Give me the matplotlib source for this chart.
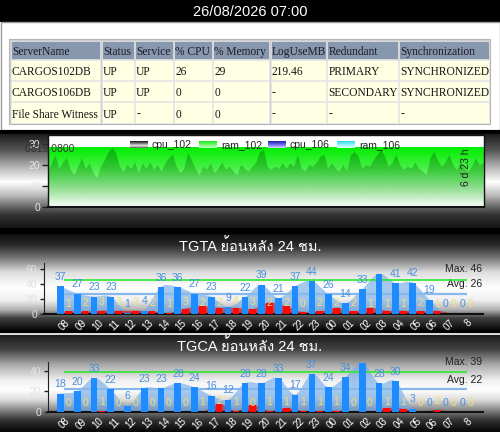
import numpy as np
import matplotlib
matplotlib.use("Agg")
import matplotlib.pyplot as plt
from matplotlib.path import Path
from matplotlib.patches import PathPatch, Rectangle
from matplotlib.colors import LinearSegmentedColormap, to_rgba
from matplotlib import font_manager
from matplotlib.ft2font import FT2Font

# ------------------------------------------------------------------ data
report_time = "26/08/2026 07:00"
table_columns = ["ServerName", "Status", "Service", "% CPU", "% Memory",
                 "LogUseMB", "Redundant", "Synchronization"]
table_row_1 = ["CARGOS102DB", "UP", "UP", "26", "29", "219.46", "PRIMARY", "SYNCHRONIZED"]
table_row_2 = ["CARGOS106DB", "UP", "UP", "0", "0", "-", "SECONDARY", "SYNCHRONIZED"]
table_row_3 = ["File Share Witness", "UP", "-", "0", "0", "-", "-", "-"]

trend_start = "0819 0800"
uptime_label = "6 d 23 h"
legend_names = ["cpu_102", "ram_102", "cpu_106", "ram_106"]
trend_yticks = [0, 10, 20, 30]
cpu_102 = [16.7, 20.6, 24.3, 18, 21, 23, 17.5, 15, 19, 23, 18, 20.6, 15.9, 13.5,
           19, 22, 26, 27.8, 25.4, 19, 16.7, 19.8, 18, 21, 15.9, 20.6, 18, 21,
           17.5, 19.8, 16.7, 20.6, 23, 24.6, 19, 15.9, 18, 25.4, 22, 18, 15, 19,
           17.5, 20.6, 15.9, 18, 21, 17.5, 19, 16.7, 15, 19.8, 18, 16.7, 19, 21,
           26, 27, 19, 17.5, 19, 18, 20.6,
           18, 20.6, 19, 24.6, 18, 16.7, 19.8, 19, 21, 23.8, 24.6, 18, 20.6, 18,
           16.7, 19.8, 16.7, 24.6, 26, 23.8, 18, 19.8, 19, 22, 24.6, 27, 23.8,
           19, 21, 24.6, 19.8, 17.5, 19, 18, 21, 18, 16.7, 15, 23, 26, 22, 19,
           21, 24.6, 19.8, 17.5, 20.6, 18, 16.7, 19, 23, 19.8, 20.6]
ram_102 = [28.5, 28.5]

hours = ["08", "09", "10", "11", "12", "13", "14", "15", "16", "17", "18", "19",
         "20", "21", "22", "23", "00", "01", "02", "03", "04", "05", "06", "07", "8"]

tgta_title = "TGTA ย้อนหลัง 24 ชม."
tgta_blue = [37, 27, 23, 23, 1, 4, 36, 36, 27, 23, 9, 22, 39, 21, 37, 44, 26, 14,
             33, 54, 41, 42, 19, 0, 0]
tgta_yellow = [1, 2, 3, 3, 3, 2, 1, 3, 2, 2, 4, 3, 2, 2, 0, 2, 2, 2, 1, 1, 1, 2, 1, 0, 0]
tgta_red = [3, 3, 4, 4, 4, 3, 1, 7, 10, 8, 8, 6, 15, 10, 2, 3, 8, 3, 8, 4, 4, 3, 4, 0, 0]
tgta_max = 46
tgta_avg = 26
tgta_yticks = [0, 20, 40, 60]

tgca_title = "TGCA ย้อนหลัง 24 ชม."
tgca_blue = [18, 20, 33, 22, 6, 23, 23, 28, 24, 16, 12, 28, 28, 33, 17, 37, 24, 34,
             48, 28, 30, 3, 0, 0, 0]
tgca_yellow = [0, 0, 1, 0, 0, 0, 0, 0, 1, 2, 1, 0, 1, 1, 1, 1, 1, 0, 0, 1, 1, 0, 2, 0, 0]
tgca_red = [0, 0, 1, 0, 0, 0, 0, 0, 0, 8, 1, 7, 1, 4, 1, 1, 1, 0, 0, 4, 3, 0, 2, 0, 0]
tgca_max = 39
tgca_avg = 22
tgca_yticks = [0, 20, 40]

# ------------------------------------------------------------------ fonts
def find_font_for(ch):
    for f in font_manager.fontManager.ttflist:
        try:
            if ord(ch) in FT2Font(f.fname).get_charmap():
                return f.name
        except Exception:
            pass
    return None

thai_font = find_font_for("ย")
SANS = ["Liberation Sans"] + ([thai_font] if thai_font else []) + ["DejaVu Sans"]
plt.rcParams["font.family"] = SANS

# ------------------------------------------------------------------ figure
W, H = 500, 432
fig = plt.figure(figsize=(W / 100, H / 100), dpi=100)
fig.patch.set_facecolor("white")

bg = fig.add_axes([0, 0, 1, 1], zorder=0)
bg.axis("off")


def vgrad(ax, x0, x1, y0, y1, stops, z=0):
    pos = [(s - y0) / (y1 - y0) for s, _ in stops]
    cmap = LinearSegmentedColormap.from_list("g", list(zip(pos, [c for _, c in stops])))
    ax.imshow(np.linspace(0, 1, 256)[:, None], cmap=cmap, extent=(x0, x1, y1, y0),
              aspect="auto", interpolation="bilinear", zorder=z)


# header
bg.add_patch(Rectangle((0, 0), W, 22, fc="black", ec="none"))
bg.add_patch(Rectangle((0.5, 22), W - 1, 108, fc="white", ec="#9a9a9a", lw=1))
bg.add_patch(Rectangle((0, 130), W, 4, fc="black", ec="none"))
# panel 2 gradient
vgrad(bg, 0, W, 134, 228, [(134, "#1e1e1e"), (150, "#555555"), (165, "#aaaaaa"),
                           (182, "#ffffff"), (195, "#bdbdbd"), (207, "#666666"),
                           (215, "#333333"), (228, "#141414")])
bg.add_patch(Rectangle((0, 228), W, 6, fc="black", ec="none", zorder=1))
vgrad(bg, 0, W, 234, 330, [(234, "#101010"), (245, "#2a2a2a"), (258, "#777777"),
                           (272, "#dddddd"), (287, "#ffffff"), (300, "#f0f0f0"),
                           (310, "#b0b0b0"), (318, "#404040"), (330, "#080808")])
bg.add_patch(Rectangle((0, 330), W, 3, fc="black", ec="none", zorder=1))
bg.add_patch(Rectangle((0, 333), W, 1.5, fc="#d8d8d8", ec="none", zorder=1))
vgrad(bg, 0, W, 334.5, 432, [(334.5, "#181818"), (350, "#444444"), (365, "#aaaaaa"),
                             (380, "#eeeeee"), (390, "#ffffff"), (400, "#dddddd"),
                             (410, "#888888"), (420, "#333333"), (432, "#050505")])

# table
col_edges = [10, 101, 134.3, 173.3, 212.3, 270, 326.7, 398.3, 489.3]
row_edges = [40, 59.5, 80.3, 101.7, 123.3]
bg.add_patch(Rectangle((9, 39), 481.3, 85.3, fc="#d0d0d0", ec="#b5b5b5", lw=0.8, zorder=2))
table_rows = [table_columns, table_row_1, table_row_2, table_row_3]
for r, row in enumerate(table_rows):
    for c, txt in enumerate(row):
        x0, x1 = col_edges[c] + 0.7, col_edges[c + 1] - 0.7
        y0, y1 = row_edges[r] + 0.7, row_edges[r + 1] - 0.7
        fc = "#8797ad" if r == 0 else "#ffffe4"
        bg.add_patch(Rectangle((x0, y0), x1 - x0, y1 - y0, fc=fc, ec="#e8e8e8", lw=0.5, zorder=3))
        bg.text(x0 + 1.2, (y0 + y1) / 2 + 0.5, txt, ha="left", va="center_baseline",
                fontsize=8.3, family="Liberation Serif",
                color="#1b1b28" if r == 0 else "#141414", zorder=4)

bg.set_xlim(0, W)
bg.set_ylim(H, 0)

# title
bg.text(W / 2, 11.5, report_time, ha="center", va="center", color="white",
        fontsize=10.5, family="Liberation Sans", zorder=5)


def px_axes(x0, y0, x1, y1, z=2):
    return fig.add_axes([x0 / W, 1 - y1 / H, (x1 - x0) / W, (y1 - y0) / H], zorder=z)


# ------------------------------------------------------------------ trend panel
ax2 = px_axes(48, 134.5, 483.5, 206.7)
ax2.set_facecolor("white")
n = len(cpu_102)
xs = np.arange(n)

ram_x = np.linspace(0, n - 1, len(ram_102))
ram_poly = np.vstack([[ram_x[0], 0], np.column_stack([ram_x, ram_102]), [ram_x[-1], 0]])
ram_patch = PathPatch(Path(ram_poly), fc="none", ec="none")
ax2.add_patch(ram_patch)
gcmap = LinearSegmentedColormap.from_list(
    "gr", [(0, "#ffffff"), (0.3, "#b0f2b0"), (0.65, "#48f048"), (1, "#00ee00")])
im = ax2.imshow(np.linspace(0, 1, 256)[:, None], cmap=gcmap, origin="lower",
                extent=(0, n - 1, 0, max(ram_102)), aspect="auto", zorder=1)
im.set_clip_path(ram_patch)

cpu_poly = np.vstack([[0, 0], np.column_stack([xs, cpu_102]), [n - 1, 0]])
cpu_patch = PathPatch(Path(cpu_poly), fc="none", ec="none")
ax2.add_patch(cpu_patch)
ov = np.zeros((256, 1, 4))
ov[..., :3] = to_rgba("#0a780a")[:3]
ov[:, 0, 3] = np.linspace(0.0, 0.5, 256)
im2 = ax2.imshow(ov, origin="lower", extent=(0, n - 1, 0, max(cpu_102)),
                 aspect="auto", zorder=2)
im2.set_clip_path(cpu_patch)
ax2.set_xlim(0, n - 1)
ax2.set_ylim(0, 34.3)

ax2.set_yticks(trend_yticks)
ax2.set_xticks([])
ax2.tick_params(axis="y", colors="#222222", labelcolor="#e6e6e6", length=4, width=1,
                labelsize=7.5, pad=1.5)
for s in ax2.spines.values():
    s.set_color("#111111")
    s.set_linewidth(1)
ax2.spines["bottom"].set_linewidth(1.5)

# ------------------------------------------------------------------ hourly panels
CAT0_PX, CAT_STEP = 64.4, 16.76
OFF, BW = 0.233, 0.4


def smooth_area(ax, x, y, **kw):
    n = len(x)
    verts = [(x[0], 0), (x[0], y[0])]
    codes = [Path.MOVETO, Path.LINETO]
    for i in range(n - 1):
        p0 = (x[i - 1], y[i - 1]) if i > 0 else (x[i], y[i])
        p1 = (x[i], y[i])
        p2 = (x[i + 1], y[i + 1])
        p3 = (x[i + 2], y[i + 2]) if i + 2 < n else p2
        c1 = (p1[0] + (p2[0] - p0[0]) / 6, max(0, p1[1] + (p2[1] - p0[1]) / 6))
        c2 = (p2[0] - (p3[0] - p1[0]) / 6, max(0, p2[1] - (p3[1] - p1[1]) / 6))
        verts += [c1, c2, p2]
        codes += [Path.CURVE4] * 3
    verts += [(x[-1], 0), (x[0], 0)]
    codes += [Path.LINETO, Path.CLOSEPOLY]
    ax.add_patch(PathPatch(Path(verts, codes), **kw))


def hourly(ax_px, title, title_y, blue, yellow, red, vmax, vavg, ytop, yticks,
           max_y, avg_y):
    x0, y0, x1, y1 = ax_px
    ax = px_axes(x0, y0, x1, y1)
    ax.patch.set_alpha(0)
    idx = np.arange(len(blue))
    smooth_area(ax, idx - OFF, blue, fc="#6fa9e8", ec="none", alpha=0.62, zorder=1)
    ax.hlines([vavg], 0, len(blue) - 1, colors="#86b8ec", lw=1.6, zorder=2)
    ax.hlines([vmax], 0, len(blue) - 1, colors="#2ee82e", lw=1.2, zorder=2)
    smooth_area(ax, idx + OFF, red, fc="#d41414", ec="none", alpha=0.6, zorder=2.5)
    ax.bar(idx - OFF, blue, width=BW, color="#1e8cff", lw=0, zorder=3)
    ax.bar(idx + OFF, red, width=BW, color="#ff0808", lw=0, zorder=3.5)
    for i, v in enumerate(blue):
        if v <= vmax:
            ax.annotate(str(v), (i - OFF, v), xytext=(0, 6.8), textcoords="offset points",
                        ha="center", va="center", color="#4a8fdc", fontsize=7.5, zorder=5)
    for i, v in enumerate(yellow):
        ax.annotate(str(v), (i + OFF, v), xytext=(0, 6.8), textcoords="offset points",
                    ha="center", va="center", color="#ece27a", fontsize=7.5, zorder=5)
    ax.set_xlim(-(CAT0_PX - x0) / CAT_STEP, (x1 - CAT0_PX) / CAT_STEP)
    ax.set_ylim(0, ytop)
    ax.set_yticks(yticks)
    ax.set_xticks(idx)
    ax.set_xticklabels(hours, rotation=45, ha="right", va="top", rotation_mode="anchor",
                       color="white", fontsize=7)
    ax.tick_params(axis="x", length=0, pad=3)
    ax.tick_params(axis="y", colors="#222222", labelcolor="#e2e2e2", length=3, width=1,
                   labelsize=7.5, pad=2)
    for s in ("top", "right"):
        ax.spines[s].set_visible(False)
    ax.spines["left"].set_color("#222222")
    ax.spines["bottom"].set_color("#111111")
    ax.spines["bottom"].set_linewidth(1.5)
    bg.text(W / 2, title_y, title, ha="center", va="center", color="white",
            fontsize=10.5, zorder=5)
    bg.text(482, max_y, f"Max. {vmax}", ha="right", va="center", color="#222222",
            fontsize=7.5, zorder=5)
    bg.text(482, avg_y, f"Avg. {vavg}", ha="right", va="center", color="#222222",
            fontsize=7.5, zorder=5)
    return ax


hourly((44, 263, 483, 313.7), tgta_title, 246.5, tgta_blue, tgta_yellow, tgta_red,
       tgta_max, tgta_avg, 68.5, tgta_yticks, 269, 284.3)
hourly((48, 361.7, 483, 412), tgca_title, 346.5, tgca_blue, tgca_yellow, tgca_red,
       tgca_max, tgca_avg, 49, tgca_yticks, 362, 380)

# ------------------------------------------------------------------ overlay (legend etc.)
ovl = fig.add_axes([0, 0, 1, 1], zorder=10)
ovl.axis("off")
swatch_cols = [["#111111", "#777777", "#eeeeee", "#555555"],
               ["#18e818", "#70f870", "#c8ffc8"],
               ["#2020a8", "#6a6af0", "#dcdcff"],
               ["#2ad8ec", "#8ff4fc", "#e0ffff"]]
swatch_x = [130, 199, 268, 337]
for name, sx, cols in zip(legend_names, swatch_x, swatch_cols):
    vgrad(ovl, sx, sx + 18, 141.5, 148.5,
          [(141.5 + i * 7 / (len(cols) - 1), c) for i, c in enumerate(cols)], z=1)
    ovl.text(sx + 22, 145.2, name, ha="left", va="center", color="#222222",
             fontsize=7.5, zorder=2)
ovl.text(25, 149, trend_start, ha="left", va="center", color="#333333", fontsize=7.5)
ovl.text(466, 167, uptime_label, ha="center", va="center", rotation=90,
         color="#222222", fontsize=7.5)
ovl.set_xlim(0, W)
ovl.set_ylim(H, 0)

fig.savefig("out.png", dpi=100)
